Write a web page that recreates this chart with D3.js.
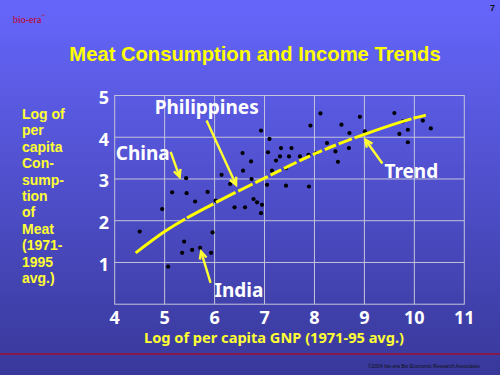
<!DOCTYPE html>
<html>
<head>
<meta charset="utf-8">
<script src="https://cdn.jsdelivr.net/npm/d3@7"></script>
<style>
html,body{margin:0;padding:0;overflow:hidden;}
svg{display:block;}
</style>
</head>
<body>
<script>
// ---- data ----
const xTicks = [4, 5, 6, 7, 8, 9, 10, 11];
const yTicks = [1, 2, 3, 4, 5];
const gnpLog = [4.50,4.95,5.07,5.15,5.43,5.44,5.39,5.35,5.55,5.71,5.61,5.86,5.93,5.96,6.02,6.14,6.31,6.40,6.61,6.56,6.57,6.73,6.74,6.78,6.85,6.95,6.93,6.93,7.10,7.07,7.05,7.15,7.23,7.31,7.33,7.43,7.49,7.54,7.43,7.71,7.88,7.92,8.03,8.12,7.89,8.25,8.42,8.47,8.54,8.70,8.69,8.91,9.01,9.60,9.77,9.70,9.87,9.87,10.17,10.33];
const meatLog = [1.74,2.28,0.90,2.68,3.02,2.66,1.50,1.23,1.30,1.35,2.46,2.69,1.23,1.72,2.48,3.10,2.88,2.32,2.32,3.62,3.20,3.42,3.00,2.52,2.44,2.38,2.18,4.16,3.96,3.64,2.86,3.20,3.44,3.54,3.74,3.26,3.54,3.74,2.84,3.54,3.58,4.28,3.62,4.57,2.82,3.86,3.66,3.41,4.30,4.10,3.74,4.49,4.14,4.58,4.38,4.08,4.18,3.88,4.40,4.21];
const trendX = [4.42, 5.0, 6.0, 7.0, 8.0, 9.0, 10.0, 10.23];
const trendY = [1.23, 1.74, 2.42, 3.02, 3.60, 4.07, 4.46, 4.53];
const labelNames = ["Philippines", "China", "India", "Trend"];
const labelX = [4.80, 4.02, 6.00, 9.40];
const labelY = [4.56, 3.46, 0.17, 3.02];
const arrowFromX = [5.84, 5.12, 5.92, 9.36];
const arrowFromY = [4.40, 3.65, 0.51, 3.37];
const arrowToX = [6.43, 5.30, 5.73, 9.02];
const arrowToY = [2.86, 3.05, 1.26, 3.94];
const titleText = "Meat Consumption and Income Trends";
const xTitle = "Log of per capita GNP (1971-95 avg.)";
const yTitleLines = ["Log of","per","capita","Con-","sump-","tion","of","Meat","(1971-","1995","avg.)"];

// ---- drawing ----
const W = 500, H = 375;
const svg = d3.select("body").append("svg").attr("width", W).attr("height", H);
const defs = svg.append("defs");
const grad = defs.append("linearGradient").attr("id","bg").attr("x1",0).attr("y1",0).attr("x2",0).attr("y2",1);
grad.append("stop").attr("offset","0%").attr("stop-color","#6666fc");
grad.append("stop").attr("offset","100%").attr("stop-color","#38389a");
svg.append("rect").attr("width",W).attr("height",H).attr("fill","url(#bg)");

const x = d3.scaleLinear().domain([4, 11]).range([114.7, 464.3]);
const y = d3.scaleLinear().domain([0, 5]).range([304.2, 95.5]);

// header
svg.append("text").attr("x",13).attr("y",22.5).text("bio-era")
  .attr("font-family","Liberation Serif").attr("font-size",10).attr("fill","#c00020");
svg.append("text").attr("x",41).attr("y",17).text("™")
  .attr("font-family","Liberation Serif").attr("font-size",4).attr("fill","#c00020");
svg.append("text").attr("x",490).attr("y",11).text("7")
  .attr("font-family","Liberation Sans").attr("font-weight","bold").attr("font-size",9).attr("fill","#111");
svg.append("text").attr("x",255).attr("y",61).attr("text-anchor","middle").text(titleText)
  .attr("font-family","Liberation Sans").attr("font-weight","bold").attr("font-size",20.2).attr("fill","#ffff00");

// grid
const g = svg.append("g");
g.selectAll("line.vx").data(xTicks.filter(d => d > 4 && d < 11)).enter().append("line")
  .attr("x1", d => x(d)).attr("x2", d => x(d)).attr("y1", y(5)).attr("y2", y(0))
  .attr("stroke","#c4c4dc").attr("stroke-width",1);
g.selectAll("line.hy").data(yTicks.filter(d => d < 5)).enter().append("line")
  .attr("y1", d => y(d)).attr("y2", d => y(d)).attr("x1", x(4)).attr("x2", x(11))
  .attr("stroke","#c4c4dc").attr("stroke-width",1);
g.append("rect").attr("x", x(4)).attr("y", y(5)).attr("width", x(11)-x(4)).attr("height", y(0)-y(5))
  .attr("fill","none").attr("stroke","#c4c4dc").attr("stroke-width",1);

// tick labels
const tickFont = "Noto Sans";
svg.selectAll("text.xt").data(xTicks).enter().append("text")
  .attr("x", d => x(d)).attr("y", 323.5).attr("text-anchor","middle").text(d => d)
  .attr("font-family",tickFont).attr("font-weight","bold").attr("font-size",18).attr("fill","#fff");
svg.selectAll("text.yt").data(yTicks).enter().append("text")
  .attr("x", 109).attr("y", d => y(d) + 8.5).attr("text-anchor","end").text(d => d)
  .attr("font-family",tickFont).attr("font-weight","bold").attr("font-size",18).attr("fill","#fff");

// axis titles
svg.append("text").attr("x",274).attr("y",342.5).attr("text-anchor","middle").text(xTitle)
  .attr("font-family",tickFont).attr("font-weight","bold").attr("font-size",14.6).attr("fill","#ffff33");
const yt = svg.append("text").attr("font-family","Liberation Sans").attr("font-weight","bold")
  .attr("font-size",14).attr("fill","#ffff33");
yTitleLines.forEach((t,i) => {
  yt.append("tspan").attr("x",22).attr("y",119 + i*16.4).text(t);
});

// points
svg.selectAll("circle.pt").data(gnpLog.map((v,i)=>[v, meatLog[i]])).enter().append("circle")
  .attr("cx", d => x(d[0])).attr("cy", d => y(d[1])).attr("r", 2.1).attr("fill","#000");

// trend line
const line = d3.line().x(d => x(d[0])).y(d => y(d[1])).curve(d3.curveMonotoneX);
svg.append("path").datum(trendX.map((v,i)=>[v, trendY[i]])).attr("d", line)
  .attr("fill","none").attr("stroke","#ffff00").attr("stroke-width",3)
  .attr("stroke-linecap","butt").attr("stroke-dasharray","60,2,30,3,22,3,16,3,14,3,12,3,14,3,12,3,10,3,12,3,14,3");

// arrows
labelNames.forEach((n,i) => {
  const x1 = x(arrowFromX[i]), y1 = y(arrowFromY[i]), x2 = x(arrowToX[i]), y2 = y(arrowToY[i]);
  const ang = Math.atan2(y2 - y1, x2 - x1);
  const hl = 8, ha = 0.45;
  svg.append("line").attr("x1",x1).attr("y1",y1).attr("x2",x2).attr("y2",y2)
    .attr("stroke","#ffff33").attr("stroke-width",2.4);
  const p = d3.path();
  p.moveTo(x2 - hl*Math.cos(ang - ha), y2 - hl*Math.sin(ang - ha));
  p.lineTo(x2, y2);
  p.lineTo(x2 - hl*Math.cos(ang + ha), y2 - hl*Math.sin(ang + ha));
  svg.append("path").attr("d", p.toString()).attr("fill","none")
    .attr("stroke","#ffff33").attr("stroke-width",2.4).attr("stroke-linejoin","miter");
  svg.append("text").attr("x", x(labelX[i])).attr("y", y(labelY[i])).text(n)
    .attr("font-family",tickFont).attr("font-weight","bold").attr("font-size",19).attr("fill","#fff");
});

// footer
svg.append("line").attr("x1",0).attr("x2",W).attr("y1",354).attr("y2",354)
  .attr("stroke","#a01030").attr("stroke-width",1.3);
svg.append("text").attr("x",368).attr("y",368).text("©2004 bio-era Bio Economic Research Associates")
  .attr("font-family","Liberation Sans").attr("font-size",5).attr("fill","#111");
</script>
</body>
</html>
